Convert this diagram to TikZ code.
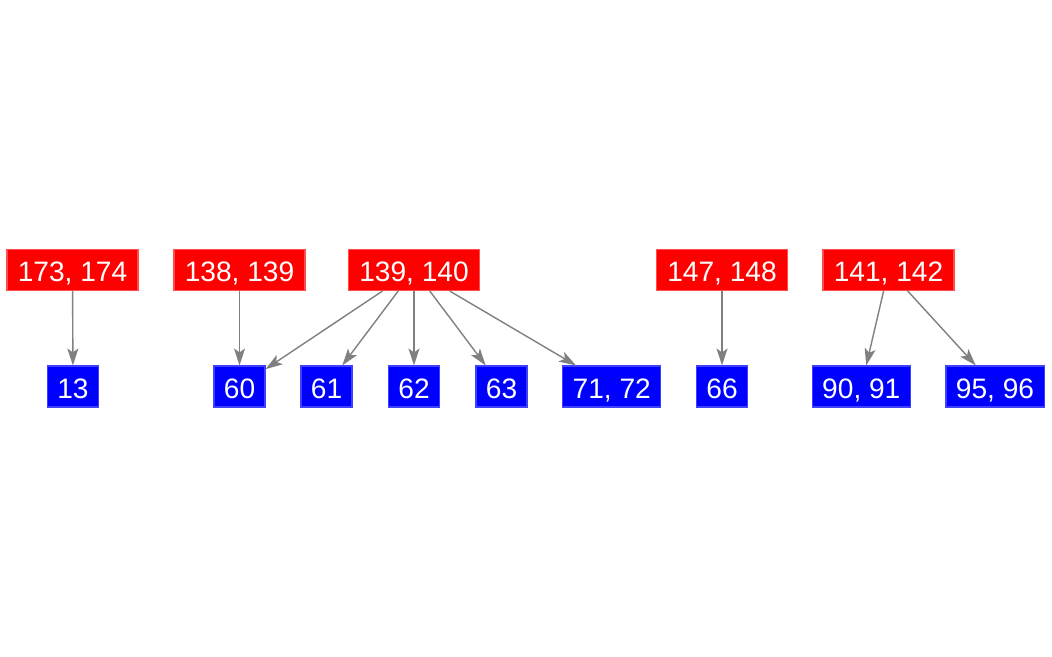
\documentclass[tikz,border=0pt]{standalone}
\usepackage{fontspec}
\setmainfont{Liberation Sans}
\usetikzlibrary{arrows.meta}

\begin{document}
\begin{tikzpicture}
	\tikzstyle{Pair} = [rectangle, minimum width=1.31cm, minimum height=4.1mm, inner sep=0pt, text height=6.7pt, text depth=0pt, text centered, draw=red!70!white, line width=0.3pt, fill=red, text=white, font=\fontsize{8pt}{9pt}\selectfont]
	\tikzstyle{Leaf} = [rectangle, minimum width=0.51cm, minimum height=4.1mm, inner sep=0pt, text height=6.7pt, text depth=0pt, text centered, draw=blue!75!white, line width=0.3pt, fill=blue, text=white, font=\fontsize{8pt}{9pt}\selectfont]
	\tikzstyle{arrow} = [gray, line width=0.4pt, -{Stealth[length=1.7mm, width=1.1mm, inset=0.4mm]}]

	\useasboundingbox (0, 0) rectangle (10.52, 6.56);

	% upper row
	\node (p173) [Pair] at (0.725, 3.86) {173, 174};
	\node (p138) [Pair] at (2.395, 3.86) {138, 139};
	\node (p139) [Pair] at (4.14, 3.86) {139, 140};
	\node (p147) [Pair] at (7.22, 3.86) {147, 148};
	\node (p141) [Pair] at (8.885, 3.86) {141, 142};

	% lower row
	\node (l13) [Leaf] at (0.73, 2.695) {13};
	\node (l60) [Leaf] at (2.395, 2.695) {60};
	\node (l61) [Leaf] at (3.265, 2.695) {61};
	\node (l62) [Leaf] at (4.14, 2.695) {62};
	\node (l63) [Leaf] at (5.015, 2.695) {63};
	\node (l71) [Leaf, minimum width=0.98cm] at (6.117, 2.695) {71, 72};
	\node (l66) [Leaf] at (7.22, 2.695) {66};
	\node (l90) [Leaf, minimum width=0.98cm] at (8.613, 2.695) {90, 91};
	\node (l95) [Leaf, minimum width=0.98cm] at (9.95, 2.695) {95, 96};

	\draw [arrow] (p173) -- (l13);
	\draw [arrow] (p138) -- (l60);
	\foreach \t in {l60, l61, l62, l63, l71}
		\draw [arrow] (p139) -- (\t);
	\draw [arrow] (p147) -- (l66);
	\draw [arrow] (p141) -- (l90);
	\draw [arrow] (p141) -- (l95);
\end{tikzpicture}
\end{document}
